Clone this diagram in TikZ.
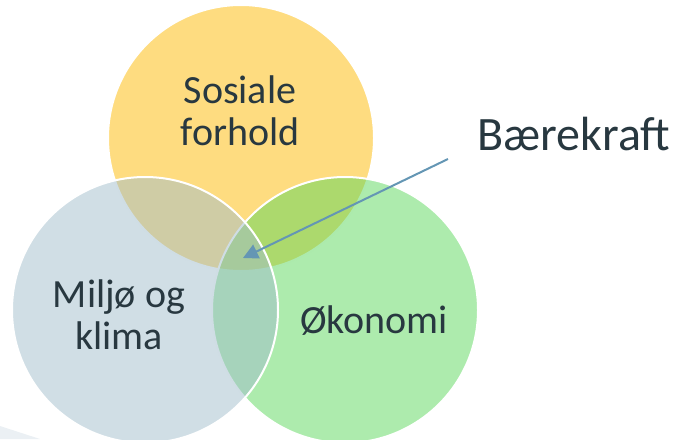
\documentclass[tikz,border=0pt]{standalone}
\usepackage{fontspec}
\setmainfont{Carlito}
\usetikzlibrary{arrows.meta}
\definecolor{cyellow}{RGB}{254,220,128}
\definecolor{cgreen}{RGB}{91,215,91}
\definecolor{cblue}{RGB}{161,189,203}
\definecolor{ctext}{RGB}{40,56,64}
\definecolor{carrow}{RGB}{100,150,180}
\definecolor{cfaint}{RGB}{235,240,244}
\tikzset{
  circ/.style={draw=white, line width=2pt},
  lbl/.style={text=ctext, font=\fontsize{40}{42}\selectfont, align=center, inner sep=0pt},
}
\begin{document}
\begin{tikzpicture}[x=1pt,y=-1pt]
\useasboundingbox (0,0) rectangle (684,439);
\fill[cfaint] (0,426) -- (40,439) -- (0,439) -- cycle;
\path[circ, fill=cyellow] (241,138) circle[radius=133];
\path[circ, fill=cgreen, fill opacity=0.5] (345,310) circle[radius=133];
\path[circ, fill=cblue, fill opacity=0.5] (145,310) circle[radius=133];
\node[lbl, anchor=base] (sos) at (240,145) {Sosiale\\forhold};
\node[lbl, anchor=base] (mil) at (119,349) {Miljø og\\klima};
\node[lbl, anchor=base] (oko) at (374,333) {Økonomi};
\node[text=ctext, font=\fontsize{48}{50}\selectfont, inner sep=0pt, anchor=base west] (bk) at (477,150) {Bærekraft};
\coordinate (tail) at (448,159);
\coordinate (tip) at (243,258);
\draw[carrow, line width=2pt, -{Triangle[length=15pt,width=15pt]}] (tail) -- (tip);
\end{tikzpicture}
\end{document}
